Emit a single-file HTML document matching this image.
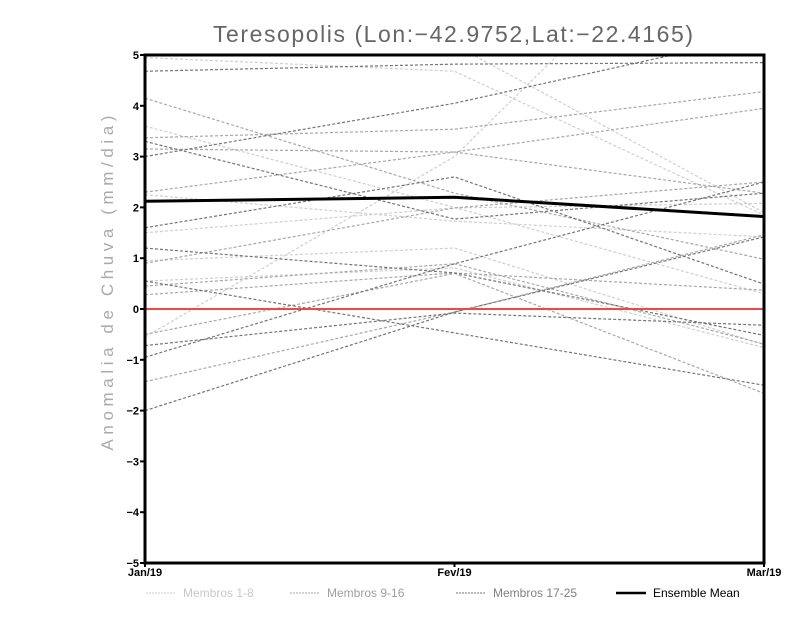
<!DOCTYPE html>
<html><head><meta charset="utf-8">
<style>
html,body{margin:0;padding:0;background:#fff;}
svg{display:block;}
</style></head>
<body>
<svg id="chart" width="800" height="618" viewBox="0 0 800 618" xmlns="http://www.w3.org/2000/svg">
  <defs><clipPath id="clip"><rect x="145" y="55" width="619" height="508"/></clipPath></defs>
  <text x="213" y="42" textLength="480" lengthAdjust="spacing" font-family="Liberation Sans, sans-serif" font-size="23" fill="#666">Teresopolis (Lon:−42.9752,Lat:−22.4165)</text>
  <text transform="translate(113,283) rotate(-90)" text-anchor="middle" textLength="335" lengthAdjust="spacing" font-family="Liberation Sans, sans-serif" font-size="17" fill="#aaa">Anomalia de Chuva (mm/dia)</text>
  <g id="members" clip-path="url(#clip)"></g>
  <g id="axes"></g>
  <g id="legend"></g>
</svg>
<script>
const categories = ["Jan/19", "Fev/19", "Mar/19"];
const yTicks = [-5, -4, -3, -2, -1, 0, 1, 2, 3, 4, 5];
const group1 = [[4.95,4.68,1.85],[6.5,5.2,1.9],[-0.55,3.0,9],[2.25,1.73,1.42],[1.5,1.99,2.08],[0.95,1.2,-0.7],[3.6,2.0,0.3],[0.55,0.81,-0.76]];
const group2 = [[4.15,2.28,0.98],[3.37,3.54,4.28],[2.3,3.09,3.95],[0.9,1.99,2.5],[0.28,0.71,0.37],[-1.43,-0.06,1.46],[3.15,3.09,2.28],[0.45,0.89,-0.69],[-0.5,0.7,-1.66]];
const group3 = [[4.68,4.82,4.85],[3.0,4.05,5.4],[3.3,1.77,2.28],[1.6,2.6,0.49],[1.2,0.71,-0.52],[-0.72,-0.08,-0.32],[-0.95,0.89,2.5],[-2.0,-0.06,1.42],[0.55,-0.47,-1.5]];
const ensembleMean = [2.12, 2.2, 1.82];
const legendLabels = ["Membros 1-8", "Membros 9-16", "Membros 17-25", "Ensemble Mean"];

const NS = "http://www.w3.org/2000/svg";
const X0 = 145, X1 = 764, Y0 = 563, Y1 = 55;
const xPos = i => X0 + (X1 - X0) * i / (categories.length - 1);
const yPos = v => Y0 - (v - (-5)) / 10 * (Y0 - Y1);
function mk(tag, attrs, parent) { const e = document.createElementNS(NS, tag); for (const k in attrs) e.setAttribute(k, attrs[k]); parent.appendChild(e); return e; }
const mem = document.getElementById('members');
const axes = document.getElementById('axes');
const leg = document.getElementById('legend');
function pts(arr) { return arr.map((v, i) => xPos(i) + ',' + yPos(v)).join(' '); }
const groups = [[group1, '#cfcfcf'], [group2, '#a8a8a8'], [group3, '#747474']];
groups.forEach((g, gi) => {
  g[0].forEach((s, si) => {
    const l = mk('polyline', { points: pts(s), fill: 'none', stroke: g[1], 'stroke-width': 1.2, 'stroke-dasharray': '3,2' }, mem);
    
    
  });
});
const zl = mk('line', { x1: X0, x2: X1, y1: yPos(0), y2: yPos(0), stroke: '#f04848', 'stroke-width': 2 }, mem);


const ml = mk('polyline', { points: pts(ensembleMean), fill: 'none', stroke: '#000', 'stroke-width': 3 }, mem);


const fr = mk('rect', { x: X0, y: Y1, width: X1 - X0, height: Y0 - Y1, fill: 'none', stroke: '#000', 'stroke-width': 3 }, axes);


yTicks.forEach(t => {
  mk('line', { x1: X0 - 5, x2: X0, y1: yPos(t), y2: yPos(t), stroke: '#000', 'stroke-width': 2 }, axes);
  const tx = mk('text', { x: X0 - 6, y: yPos(t) + 4, 'text-anchor': 'end', 'font-family': 'Liberation Sans, sans-serif', 'font-size': 11, 'font-weight': 'bold', fill: '#000' }, axes);
  tx.textContent = String(t).replace('-', '−');
  
  
});
categories.forEach((c, i) => {
  mk('line', { x1: xPos(i), x2: xPos(i), y1: Y0, y2: Y0 + 4, stroke: '#000', 'stroke-width': 2 }, axes);
  const tx = mk('text', { x: xPos(i), y: Y0 + 13, 'text-anchor': 'middle', 'font-family': 'Liberation Sans, sans-serif', 'font-size': 11, 'font-weight': 'bold', fill: '#000' }, axes);
  tx.textContent = c;
  
  
});
const legX = [146, 290, 456, 616];
const legC = ['#cfcfcf', '#a8a8a8', '#747474', '#000'];
const legT = ['#c8c8c8', '#a0a0a0', '#808080', '#000'];
legendLabels.forEach((lab, i) => {
  const ly = 593;
  const isMean = i === 3;
  mk('line', { x1: legX[i], x2: legX[i] + 30, y1: ly, y2: ly, stroke: legC[i], 'stroke-width': isMean ? 2.5 : 1, 'stroke-dasharray': isMean ? 'none' : '2,1' }, leg);
  const tx = mk('text', { x: legX[i] + 37, y: ly + 4, 'font-family': 'Liberation Sans, sans-serif', 'font-size': 12, fill: legT[i] }, leg);
  tx.textContent = lab;
  
  
});
</script>
</body></html>
